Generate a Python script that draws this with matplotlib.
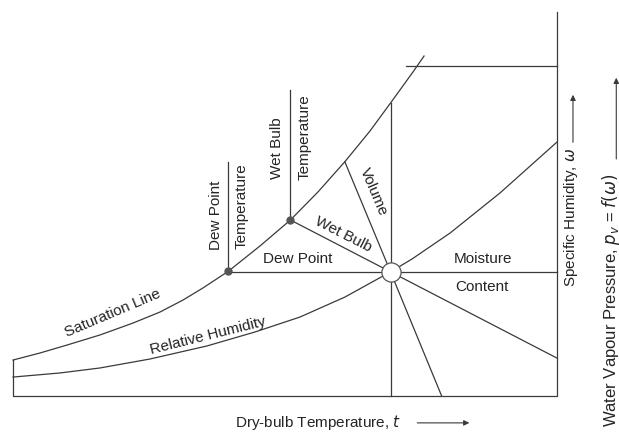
import matplotlib.pyplot as plt

plt.rcParams['font.family'] = ['Liberation Sans', 'DejaVu Sans']

# schematic psychrometric chart: dry-bulb temperature t against specific humidity w
# (arbitrary units, box runs t = 0..50, w = 0..30)
sat_t = [0.0, 2.48, 4.96, 8.0, 11.03, 13.51, 15.63, 17.46, 19.8, 22.7, 25.5,
         28.03, 30.5, 32.81, 34.7, 36.76, 37.78]
sat_w = [2.81, 3.36, 3.98, 4.77, 5.7, 6.56, 7.5, 8.44, 9.75, 11.72, 13.75,
         15.94, 18.3, 20.7, 22.89, 25.31, 26.56]

rh_t = [0.0, 4.32, 8.0, 12.59, 17.83, 22.24, 26.38, 30.51, 34.7, 36.67, 40.17, 44.76, 50.0]
rh_w = [1.48, 1.8, 2.19, 2.89, 3.91, 5.0, 6.17, 7.73, 9.7, 10.7, 12.73, 15.86, 19.84]

# state point, dew point and wet bulb point
state_t, state_w = 34.7, 9.7
dew_t, dew_w = 19.8, 9.75
wb_t, wb_w = 25.5, 13.75

# constant wet bulb and constant volume lines through the state point
wbline_t = [wb_t, state_t, 50.0]
wbline_w = [wb_w, state_w, 2.96]
vol_t = [30.5, state_t, 39.4]
vol_w = [18.3, state_w, 0.0]

t_max, w_max, w_top = 50.0, 30.0, 25.78
dew_top, wb_top, db_top = 18.3, 23.9, 22.89

lc = '#3a3a3a'
tc = '#242424'
lw = 0.9
fs = 11

fig = plt.figure(figsize=(6.19, 4.32), dpi=100)
ax = fig.add_axes([0, 0, 1, 1])
ax.set_xlim(-1.195, 55.70)
ax.set_ylim(-2.8125, 30.9375)
ax.axis('off')

# chart frame
ax.plot([0, 0, t_max, t_max], [sat_w[0], 0, 0, w_max], color=lc, lw=lw)
ax.plot([36.1, t_max], [w_top, w_top], color=lc, lw=lw)

# saturation and relative humidity curves
ax.plot(sat_t, sat_w, color=lc, lw=lw)
ax.plot(rh_t, rh_w, color=lc, lw=lw)

# dew point: vertical temperature line and horizontal moisture line
ax.plot([dew_t, dew_t], [dew_w, dew_top], color=lc, lw=lw)
ax.plot([dew_t, t_max], [state_w, state_w], color=lc, lw=lw)

# wet bulb temperature line
ax.plot([wb_t, wb_t], [wb_w, wb_top], color=lc, lw=lw)
ax.plot(wbline_t, wbline_w, color=lc, lw=lw)

# volume line and dry-bulb line
ax.plot(vol_t, vol_w, color=lc, lw=lw)
ax.plot([state_t, state_t], [0, db_top], color=lc, lw=lw)

ax.plot([dew_t, wb_t], [dew_w, wb_w], 'o', ms=5, color='#555555', zorder=5)
ax.plot(state_t, state_w, 'o', ms=13.8, mfc='white', mec='#555555', mew=0.9, zorder=6)

# labels
ax.text(18.66, 14.10, 'Dew Point', rotation=90, ha='center', va='center', fontsize=fs, color=tc)
ax.text(21.0, 14.84, 'Temperature', rotation=90, ha='center', va='center', fontsize=fs, color=tc)
ax.text(24.26, 19.375, 'Wet Bulb', rotation=90, ha='center', va='center', fontsize=fs, color=tc)
ax.text(26.8, 20.2, 'Temperature', rotation=90, ha='center', va='center', fontsize=fs, color=tc)
ax.text(26.19, 10.7, 'Dew Point', ha='center', va='center', fontsize=fs, color=tc)
ax.text(30.33, 12.66, 'Wet Bulb', rotation=-27, ha='center', va='center', fontsize=fs, color=tc)
ax.text(33.15, 15.94, 'Volume', rotation=-67, ha='center', va='center', fontsize=fs, color=tc)
ax.text(43.2, 10.7, 'Moisture', ha='center', va='center', fontsize=fs, color=tc)
ax.text(43.1, 8.5, 'Content', ha='center', va='center', fontsize=fs, color=tc)
ax.text(9.2, 6.5, 'Saturation Line', rotation=23, ha='center', va='center', fontsize=fs, color=tc)
ax.text(17.9, 4.7, 'Relative Humidity', rotation=14, ha='center', va='center', fontsize=fs, color=tc)

ax.text(28.0, -2.1, 'Dry-bulb Temperature, $t$', ha='center', va='center', fontsize=fs, color=tc)
ax.annotate('', xy=(42.2, -2.1), xytext=(36.9, -2.1),
            arrowprops=dict(arrowstyle='-|>', lw=0.8, color=lc, mutation_scale=8))

ax.text(51.25, 14.0, r'Specific Humidity, $\omega$', rotation=90, ha='center', va='center',
        fontsize=fs, color=tc)
ax.annotate('', xy=(51.47, 23.75), xytext=(51.47, 19.6),
            arrowprops=dict(arrowstyle='-|>', lw=0.8, color=lc, mutation_scale=8))

ax.text(55.0, -2.4, r'Water Vapour Pressure, $p_v$ = $f(\omega)$', rotation=90,
        ha='center', va='bottom', fontsize=12, color=tc)
ax.annotate('', xy=(55.45, 25.08), xytext=(55.45, 18.3),
            arrowprops=dict(arrowstyle='-|>', lw=0.8, color=lc, mutation_scale=8))

fig.savefig('out.png', dpi=100)
